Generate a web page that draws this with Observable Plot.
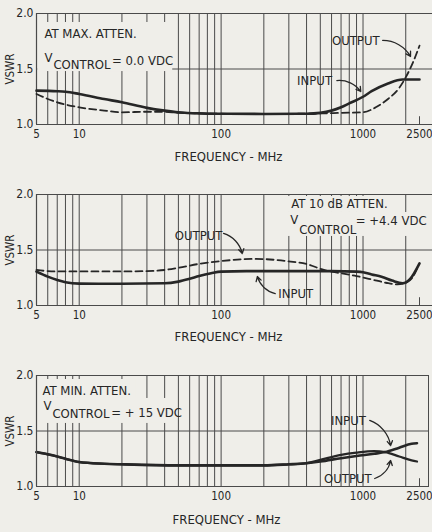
<!DOCTYPE html>
<html><head><meta charset="utf-8">
<script src="https://cdn.jsdelivr.net/npm/d3@7"></script>
<script src="https://cdn.jsdelivr.net/npm/@observablehq/plot@0.6"></script>
<style>
html,body{margin:0;padding:0;background:#efeee9;}
#chart{width:432px;height:532px;overflow:hidden;}
#chart svg{display:block;}
#chart g[aria-label="y-axis label"]{font-size:11.5px;}
</style></head><body><div id="chart"></div>
<script>
// ---- axes ----
const freqTicks = [5, 10, 100, 1000, 2500];
const freqGrid = [5, 6, 7, 8, 9, 10, 20, 30, 40, 50, 60, 70, 80, 90, 100, 200, 300, 400, 500, 600, 700, 800, 900, 1000, 2000];
const freqStub = [2500];
const vswrTicks = [1.0, 1.5, 2.0];
const xTitle = ["FREQUENCY - MHz"];

// ---- panel 1: max attenuation ----
const p1Input = [[5,1.305],[7,1.30],[8,1.295],[10,1.275],[15,1.23],[20,1.20],[30,1.15],[40,1.125],[50,1.11],[70,1.10],[100,1.097],[200,1.095],[400,1.097],[500,1.105],[600,1.125],[700,1.155],[800,1.19],[1000,1.25],[1150,1.30],[1500,1.37],[1900,1.405],[2500,1.405]];
const p1Output = [[5,1.275],[6,1.23],[7,1.20],[8,1.18],[10,1.155],[15,1.125],[20,1.11],[30,1.115],[40,1.115],[50,1.105],[100,1.097],[200,1.095],[500,1.10],[700,1.105],[1000,1.11],[1230,1.155],[1500,1.23],[1800,1.33],[2000,1.425],[2250,1.56],[2500,1.71]];
const p1Labels = [
  {f: 5.69, v: 1.82, text: "AT MAX. ATTEN."},
  {f: 5.69, v: 1.604, text: "V"},
  {f: 6.58, v: 1.54, text: "CONTROL"},
  {f: 17.05, v: 1.577, text: "= 0.0 VDC"},
  {f: 604, v: 1.757, text: "OUTPUT"},
  {f: 343, v: 1.396, text: "INPUT"}
];
const p1Arrows = [
  {f1: 1376, v1: 1.757, f2: 2162, v2: 1.613},
  {f1: 654, v1: 1.396, f2: 964, v2: 1.297}
];
const p1Mask = [{f1: 5.1, f2: 45.6, v1: 1.477, v2: 1.919}];

// ---- panel 2: 10 dB attenuation ----
const p2Input = [[5,1.305],[6,1.26],[7,1.23],[8,1.21],[10,1.197],[20,1.196],[40,1.20],[50,1.215],[60,1.24],[70,1.265],[85,1.29],[100,1.305],[150,1.31],[300,1.31],[600,1.31],[900,1.305],[1000,1.30],[1150,1.28],[1350,1.26],[1600,1.225],[1900,1.20],[2150,1.24],[2500,1.38]];
const p2Output = [[5,1.32],[6,1.31],[7,1.307],[10,1.307],[20,1.307],[30,1.31],[40,1.32],[50,1.34],[70,1.375],[100,1.40],[170,1.42],[290,1.40],[410,1.37],[530,1.32],[700,1.29],[900,1.265],[1150,1.235],[1450,1.205],[1750,1.19],[1950,1.20],[2250,1.26],[2450,1.36]];
const p2Labels = [
  {f: 47.1, v: 1.63, text: "OUTPUT"},
  {f: 252.5, v: 1.108, text: "INPUT"},
  {f: 311.6, v: 1.919, text: "AT 10 dB ATTEN."},
  {f: 306.6, v: 1.775, text: "V"},
  {f: 354.6, v: 1.685, text: "CONTROL"},
  {f: 889, v: 1.766, text: "= +4.4 VDC"}
];
const p2Arrows = [
  {f1: 104, v1: 1.649, f2: 141, v2: 1.468},
  {f1: 240.6, v1: 1.108, f2: 180, v2: 1.261}
];
const p2Mask = [
  {f1: 283, f2: 1290, v1: 1.838, v2: 1.982},
  {f1: 283, f2: 2710, v1: 1.622, v2: 1.838}
];

// ---- panel 3: min attenuation ----
const p3Input = [[5,1.31],[6,1.29],[7,1.27],[8,1.25],[10,1.22],[15,1.205],[20,1.20],[50,1.19],[100,1.19],[200,1.19],[300,1.20],[400,1.21],[500,1.225],[700,1.255],[900,1.275],[1200,1.295],[1430,1.31],[1800,1.35],[2200,1.385],[2400,1.39]];
const p3Output = [[5,1.31],[6,1.29],[7,1.27],[8,1.25],[10,1.22],[15,1.205],[20,1.20],[50,1.19],[100,1.19],[200,1.19],[300,1.20],[400,1.21],[500,1.24],[700,1.285],[900,1.305],[1200,1.318],[1430,1.31],[1800,1.27],[2200,1.235],[2400,1.225]];
const p3Labels = [
  {f: 5.51, v: 1.865, text: "AT MIN. ATTEN."},
  {f: 5.6, v: 1.73, text: "V"},
  {f: 6.47, v: 1.658, text: "CONTROL"},
  {f: 16.8, v: 1.667, text: "= + 15 VDC"},
  {f: 594, v: 1.595, text: "INPUT"},
  {f: 531, v: 1.072, text: "OUTPUT"}
];
const p3ArrowIn = [{f1: 1115, v1: 1.595, f2: 1565, v2: 1.369}];
const p3ArrowOut = [{f1: 1209, v1: 1.072, f2: 1565, v2: 1.234}];
const p3Mask = [
  {f1: 5.1, f2: 25.1, v1: 1.793, v2: 1.964},
  {f1: 5.1, f2: 47.1, v1: 1.568, v2: 1.793}
];

// ---- styling ----
const BG = "#efeee9";
const INK = "#262626";
const GRID = "#4a4a4a";
const FONT = "'Liberation Sans Narrow', 'DejaVu Sans Condensed', 'Liberation Sans', sans-serif";

function panel({height, marginBottom, marginRight, titleOffset, input, output, outputDashed, labels, arrows, masks, frame}) {
  const marks = [
    Plot.ruleX(freqGrid, {stroke: GRID, strokeWidth: 1}),
    Plot.ruleY(vswrTicks, {stroke: GRID, strokeWidth: 1}),
    Plot.rect(masks, {x1: "f1", x2: "f2", y1: "v1", y2: "v2", fill: BG}),
    Plot.ruleX([5], {stroke: GRID, strokeWidth: 1.2}),
    Plot.ruleX(freqStub, {y1: 1, y2: 1.07, stroke: GRID, strokeWidth: 1}),
    Plot.line(output, {x: d => d[0], y: d => d[1], stroke: INK, strokeWidth: outputDashed ? 1.8 : 2.2, strokeDasharray: outputDashed ? "7,4" : null, curve: "monotone-x"}),
    Plot.line(input, {x: d => d[0], y: d => d[1], stroke: INK, strokeWidth: 2.6, curve: "monotone-x"}),
    Plot.text(labels, {x: "f", y: "v", text: "text", textAnchor: "start", fontSize: 13, fill: INK}),
    ...arrows.map(a => Plot.arrow(a.data, {x1: "f1", y1: "v1", x2: "f2", y2: "v2", bend: a.bend, stroke: INK, strokeWidth: 1.3, headLength: 6})),
    // x tick labels and axis title, positioned by the x scale / frame
    Plot.text(freqTicks, {x: d => d, text: d => String(d), frameAnchor: "bottom", dy: 13, fontSize: 11.5, fill: INK}),
    Plot.text(xTitle, {text: d => d, frameAnchor: "bottom", dx: -6, dy: titleOffset, fontSize: 13, fill: INK})
  ];
  if (frame) marks.push(Plot.frame({stroke: GRID}));
  return Plot.plot({
    width: 432, height, marginTop: 13, marginBottom, marginLeft: 36, marginRight,
    style: {background: BG, color: INK, fontFamily: FONT, fontSize: "12px"},
    x: {type: "log", domain: [5, 2500], range: [36, 419], axis: null},
    y: {domain: [1, 2], ticks: vswrTicks, tickFormat: d => d.toFixed(1), tickSize: 0, tickPadding: 3,
        label: "VSWR", labelAnchor: "center", labelOffset: 31, labelArrow: false},
    marks
  });
}

const chart = document.getElementById("chart");
chart.append(panel({height: 181, marginBottom: 57, marginRight: 0, titleOffset: 36,
  input: p1Input, output: p1Output, outputDashed: true, labels: p1Labels,
  arrows: [{data: p1Arrows, bend: 30}], masks: p1Mask, frame: false}));
chart.append(panel({height: 181, marginBottom: 57, marginRight: 0, titleOffset: 35,
  input: p2Input, output: p2Output, outputDashed: true, labels: p2Labels,
  arrows: [{data: p2Arrows, bend: 30}], masks: p2Mask, frame: false}));
chart.append(panel({height: 170, marginBottom: 46, marginRight: 4, titleOffset: 37,
  input: p3Input, output: p3Output, outputDashed: false, labels: p3Labels,
  arrows: [{data: p3ArrowIn, bend: 30}, {data: p3ArrowOut, bend: -30}], masks: p3Mask, frame: true}));
</script>
</body></html>
